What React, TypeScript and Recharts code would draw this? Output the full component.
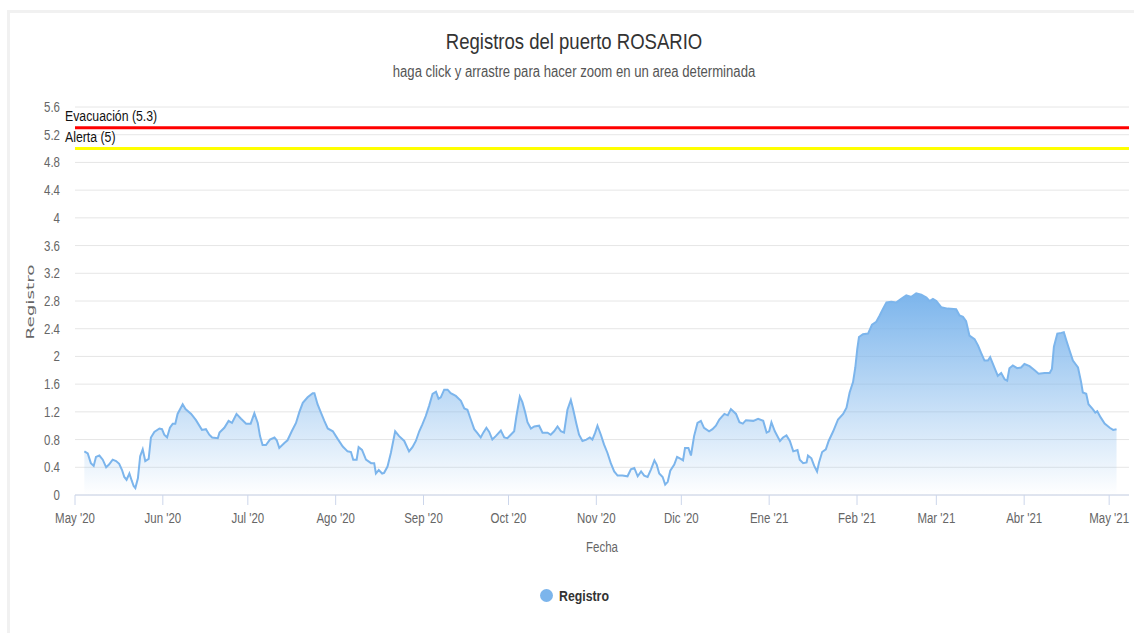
import React from 'react';
import { AreaChart, Area, XAxis, YAxis, CartesianGrid, ReferenceLine } from 'recharts';

// Days counted from 1 May 2020
const days: number[] = [
  3.3, 4.5, 5.6, 6.6, 7.4, 8.6, 9.8, 11, 12, 13.3, 14.5, 15.6, 16.6, 17.4, 18.2, 19.2, 20, 20.7, 21.3, 22.2,
  23, 23.9, 24.8, 26, 26.8, 28, 29.8, 30.7, 31.5, 32.5, 33.5, 34.5, 35.4, 36.2, 38, 39, 41, 42.7, 44.8, 46.2,
  47.4, 48.4, 50.4, 51, 52.7, 54.2, 55.4, 57, 58.6, 60.4, 62, 63.3, 64.5, 65.3, 66.2, 67.4, 68.8, 70.4, 71.2, 72.1,
  73.9, 75, 76.5, 78, 79.2, 80.4, 82.1, 83.9, 84.5, 85.6, 86.8, 88, 89.2, 91, 92.7, 94.5, 96.2, 97.4, 98.2, 99.4,
  100.1, 101.3, 102.7, 104.5, 105.6, 106.2, 107.2, 108.4, 109.1, 110.3, 111.5, 113, 114.4, 116.2, 117.9, 119.1, 120.3, 121.5, 122.6, 123.8,
  125, 126.2, 127.4, 128.3, 129.1, 130.3, 131.5, 132.6, 134.4, 136.2, 137.4, 138.5, 139.7, 140.9, 142.1, 143.2, 144.1, 145.2, 146.2, 147.3,
  148.5, 150.3, 151.5, 152.6, 153.8, 155, 155.8, 157, 157.9, 158.9, 159.7, 160.9, 162.1, 163.8, 165, 166.8, 167.9, 169.1, 170.3, 171.5,
  172.6, 173.8, 175, 175.8, 177, 177.9, 179.1, 180.5, 181.7, 182.6, 183.6, 184.4, 185.6, 186.7, 187.9, 189.1, 190.3, 191.5, 193.2, 195,
  196.2, 197.4, 198.6, 199.8, 200.9, 202.1, 203.3, 204.5, 205.3, 206.2, 207.4, 208.3, 209.2, 210.1, 211.5, 212.5, 213.8, 214.6, 215.3, 216.5,
  217.4, 218.5, 219.7, 220.9, 222, 223.8, 225, 226.2, 227.4, 229.2, 230.4, 231.5, 233.3, 234.5, 235.7, 236.8, 239.4, 241.1, 242.9, 244.1,
  245, 245.8, 247, 248.8, 249.9, 251.1, 252.3, 253.5, 255, 255.8, 257, 258.2, 258.7, 259.9, 260.9, 261.9, 262.6, 263.7, 265, 266,
  267.6, 269.3, 271.1, 272.3, 273.4, 274.6, 275.4, 276.1, 276.7, 278.1, 279.9, 281.3, 282.8, 284, 285.2, 286.4, 288.1, 289.9, 291.6, 293.4,
  295.2, 296.9, 298.7, 300.5, 301.6, 302.8, 304, 305.7, 308, 311, 312.2, 313.4, 314.5, 315.7, 317.5, 318.7, 319.8, 321, 322.2, 323,
  324.5, 325.7, 326.9, 328.1, 329, 329.8, 331, 332.5, 333.9, 335.1, 336.9, 338.7, 340.1, 342.2, 344, 344.8, 345.5, 346.7, 348.1, 349,
  349.9, 351, 352.2, 354, 355.1, 355.7, 356.9, 357.7, 359.2, 360.1, 360.8, 362, 363.4, 365.2, 366.4, 367.6,
];

const levels: number[] = [
  0.63, 0.6, 0.46, 0.42, 0.55, 0.57, 0.51, 0.4, 0.44, 0.51, 0.49, 0.45, 0.36, 0.26, 0.22, 0.31, 0.21, 0.13, 0.1, 0.24,
  0.56, 0.66, 0.49, 0.52, 0.83, 0.91, 0.96, 0.95, 0.87, 0.83, 0.97, 1.03, 1.03, 1.17, 1.31, 1.24, 1.17, 1.08, 0.94, 0.95,
  0.87, 0.83, 0.82, 0.9, 0.97, 1.07, 1.04, 1.17, 1.1, 1.03, 1.03, 1.18, 1.04, 0.85, 0.72, 0.72, 0.8, 0.83, 0.79, 0.68,
  0.75, 0.79, 0.92, 1.04, 1.2, 1.33, 1.41, 1.47, 1.47, 1.31, 1.19, 1.07, 0.96, 0.92, 0.81, 0.7, 0.63, 0.62, 0.51, 0.51,
  0.69, 0.65, 0.51, 0.46, 0.46, 0.31, 0.36, 0.31, 0.32, 0.41, 0.61, 0.92, 0.85, 0.78, 0.63, 0.69, 0.78, 0.92, 1.02, 1.14,
  1.29, 1.46, 1.49, 1.39, 1.41, 1.52, 1.52, 1.47, 1.43, 1.36, 1.25, 1.23, 1.09, 0.95, 0.89, 0.83, 0.9, 0.97, 0.91, 0.8,
  0.85, 0.93, 0.83, 0.82, 0.87, 0.92, 1.14, 1.42, 1.34, 1.19, 1.05, 0.96, 0.99, 1.0, 0.9, 0.9, 0.87, 0.92, 0.99, 0.92,
  0.9, 1.23, 1.37, 1.24, 1.02, 0.87, 0.78, 0.8, 0.83, 0.8, 0.9, 1.0, 0.87, 0.73, 0.61, 0.46, 0.34, 0.28, 0.28, 0.27,
  0.37, 0.39, 0.27, 0.34, 0.28, 0.26, 0.37, 0.5, 0.44, 0.31, 0.26, 0.15, 0.19, 0.35, 0.44, 0.55, 0.52, 0.5, 0.68, 0.68,
  0.57, 0.85, 1.04, 1.07, 0.97, 0.92, 0.95, 1.0, 1.09, 1.17, 1.15, 1.24, 1.17, 1.05, 1.03, 1.08, 1.07, 1.1, 1.07, 0.9,
  0.92, 1.05, 0.92, 0.78, 0.83, 0.86, 0.78, 0.63, 0.65, 0.51, 0.46, 0.47, 0.57, 0.53, 0.42, 0.34, 0.47, 0.62, 0.66, 0.78,
  0.92, 1.09, 1.17, 1.26, 1.48, 1.63, 1.84, 2.11, 2.28, 2.32, 2.33, 2.46, 2.5, 2.59, 2.69, 2.78, 2.79, 2.78, 2.83, 2.88,
  2.86, 2.91, 2.89, 2.85, 2.8, 2.83, 2.8, 2.71, 2.69, 2.68, 2.59, 2.57, 2.51, 2.3, 2.25, 2.16, 2.05, 1.94, 1.94, 1.99,
  1.84, 1.72, 1.76, 1.67, 1.65, 1.83, 1.87, 1.83, 1.84, 1.89, 1.86, 1.8, 1.75, 1.76, 1.76, 1.82, 2.14, 2.33, 2.34, 2.35,
  2.23, 2.09, 1.94, 1.84, 1.63, 1.48, 1.46, 1.31, 1.24, 1.19, 1.21, 1.12, 1.03, 0.97, 0.94, 0.95,
];

const monthTicks: number[] = [0, 31, 61, 92, 123, 153, 184, 214, 245, 276, 304, 335, 365];
const monthLabels: string[] = [
  "May '20", "Jun '20", "Jul '20", "Ago '20", "Sep '20", "Oct '20", "Nov '20", "Dic '20",
  "Ene '21", "Feb '21", "Mar '21", "Abr '21", "May '21",
];
const yTicks: number[] = [0, 0.4, 0.8, 1.2, 1.6, 2, 2.4, 2.8, 3.2, 3.6, 4, 4.4, 4.8, 5.2, 5.6];

const EVACUACION = 5.3;
const ALERTA = 5;

const data = days.map((d, i) => ({ day: d, Registro: levels[i] }));

const SANS = '"Liberation Sans", Arial, sans-serif';
const SX = 0.82;

const refLabel = (text: string) => (props: any) => {
  const vb = props.viewBox || {};
  return (
    <text
      x={0}
      y={0}
      transform={`translate(${vb.x - 10},${vb.y - 7}) scale(${SX},1)`}
      fill="#111"
      fontSize={15}
      fontFamily={SANS}
    >
      {text}
    </text>
  );
};

const XTick = (props: any) => {
  const { x, y, payload } = props;
  const idx = monthTicks.indexOf(payload.value);
  return (
    <text
      x={0}
      y={0}
      dy="0.71em"
      textAnchor="middle"
      transform={`translate(${x},${y}) scale(${SX},1)`}
      fill="#666"
      fontSize={14}
      fontFamily={SANS}
    >
      {idx >= 0 ? monthLabels[idx] : ''}
    </text>
  );
};

const YTick = (props: any) => {
  const { x, y, payload } = props;
  return (
    <text
      x={0}
      y={0}
      dy="0.355em"
      textAnchor="end"
      transform={`translate(${x},${y}) scale(${SX},1)`}
      fill="#666"
      fontSize={14}
      fontFamily={SANS}
    >
      {String(payload.value)}
    </text>
  );
};

const hText = (origin: string): React.CSSProperties => ({
  fontFamily: SANS,
  lineHeight: 1,
  transform: `scaleX(${SX})`,
  transformOrigin: origin,
  whiteSpace: 'nowrap',
});

export default function App() {
  return (
    <div style={{ position: 'absolute', left: 0, top: 0, width: 1134, height: 633, background: '#fff', overflow: 'hidden' }}>
      <div
        style={{
          position: 'absolute', left: 7, top: 10, width: 1200, height: 700,
          borderTop: '3px solid #f1f1f1', borderLeft: '3px solid #f1f1f1',
        }}
      />
      <div style={{ position: 'absolute', left: 0, top: 31, width: 1148, textAlign: 'center' }}>
        <div style={{ ...hText('50% 50%'), fontSize: 22.6, color: '#333' }}>Registros del puerto ROSARIO</div>
      </div>
      <div style={{ position: 'absolute', left: 0, top: 64, width: 1148, textAlign: 'center' }}>
        <div style={{ ...hText('50% 50%'), fontSize: 16, color: '#555' }}>
          haga click y arrastre para hacer zoom en un area determinada
        </div>
      </div>
      <div style={{ position: 'absolute', left: 0, top: 0 }}>
        <AreaChart
          width={1134}
          height={633}
          data={data}
          margin={{ top: 107, right: 5, bottom: 108, left: 0 }}
        >
          <defs>
            <linearGradient id="regFill" x1="0" y1="0" x2="0" y2="1">
              <stop offset="0%" stopColor="#7cb5ec" stopOpacity={1} />
              <stop offset="100%" stopColor="#7cb5ec" stopOpacity={0} />
            </linearGradient>
          </defs>
          <CartesianGrid vertical={false} stroke="#e6e6e6" strokeWidth={1} />
          <XAxis
            dataKey="day"
            type="number"
            domain={[0, 372]}
            ticks={monthTicks}
            interval={0}
            axisLine={{ stroke: '#ccd6eb' }}
            tickLine={{ stroke: '#ccd6eb' }}
            tickSize={10}
            tickMargin={8}
            height={30}
            tick={<XTick />}
          />
          <YAxis
            type="number"
            domain={[0, 5.6]}
            ticks={yTicks}
            interval={0}
            axisLine={false}
            tickLine={false}
            tickSize={0}
            tickMargin={15}
            width={75}
            tick={<YTick />}
          />
          <ReferenceLine y={EVACUACION} stroke="#ff0000" strokeWidth={3} label={refLabel('Evacuación (5.3)')} />
          <ReferenceLine y={ALERTA} stroke="#ffff00" strokeWidth={3} label={refLabel('Alerta (5)')} />
          <Area
            type="linear"
            dataKey="Registro"
            stroke="#7cb5ec"
            strokeWidth={2}
            fill="url(#regFill)"
            fillOpacity={1}
            dot={false}
            activeDot={false}
            isAnimationActive={false}
          />
        </AreaChart>
      </div>
      <svg style={{ position: 'absolute', left: 0, top: 0 }} width={60} height={633}>
        <text
          x={0}
          y={0}
          transform="translate(34, 302) rotate(-90)"
          textAnchor="middle"
          fontSize={11}
          fontFamily='"DejaVu Sans", sans-serif'
          fill="#666"
          textLength={75}
          lengthAdjust="spacingAndGlyphs"
        >
          Registro
        </text>
      </svg>
      <div style={{ position: 'absolute', left: 0, top: 540, width: 1204, textAlign: 'center' }}>
        <div style={{ ...hText('50% 50%'), fontSize: 14, color: '#666' }}>Fecha</div>
      </div>
      <div
        style={{
          position: 'absolute', left: 540, top: 589, width: 13, height: 13,
          borderRadius: '50%', background: '#7cb5ec',
        }}
      />
      <div style={{ position: 'absolute', left: 559, top: 588 }}>
        <div style={{ ...hText('0% 50%'), fontSize: 15, fontWeight: 'bold', color: '#333' }}>Registro</div>
      </div>
    </div>
  );
}
